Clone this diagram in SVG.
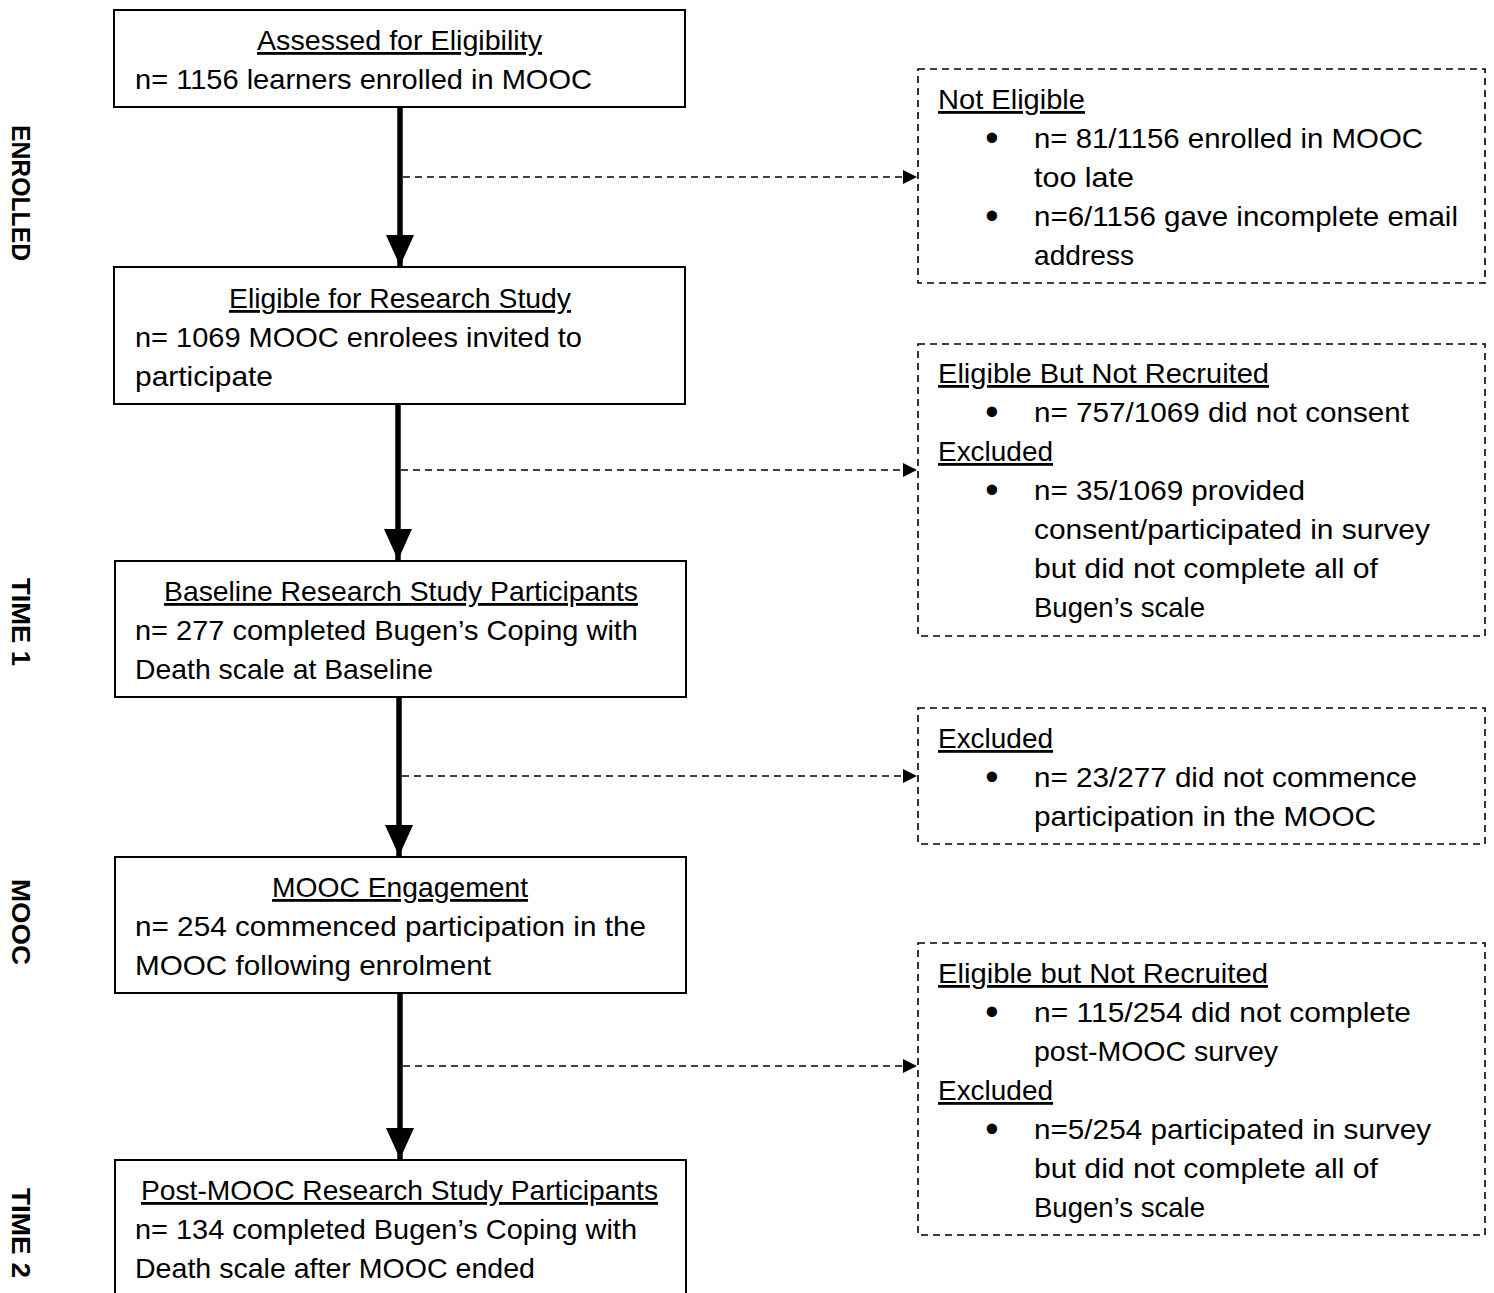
<svg xmlns="http://www.w3.org/2000/svg" width="1494" height="1293" viewBox="0 0 1494 1293">
<style>
.box{fill:#fff;stroke:#000;stroke-width:2}
.dbox{fill:#fff;stroke:#000;stroke-width:1.6;stroke-dasharray:7 5}
.t{font-family:"Liberation Sans",Arial,sans-serif;font-size:28px;fill:#000}
.b{font-family:"Liberation Sans",Arial,sans-serif;font-size:38px;fill:#000}
.u{text-decoration:underline}
.side{font-family:"Liberation Sans",Arial,sans-serif;font-size:25px;font-weight:bold;fill:#000}
.main{stroke:#000;stroke-width:5.5;fill:none}
.dash{stroke:#000;stroke-width:1.6;stroke-dasharray:7 5;fill:none}
</style>
<defs>
<marker id="big" markerUnits="userSpaceOnUse" markerWidth="30" markerHeight="32" refX="15" refY="31" orient="0" viewBox="0 0 30 32">
<path d="M1,0 L29,0 L15,31 Z" fill="#000"/>
</marker>
<marker id="small" markerUnits="userSpaceOnUse" markerWidth="15" markerHeight="16" refX="14" refY="8" orient="auto" viewBox="0 0 15 16">
<path d="M0,1 L14,8 L0,15 Z" fill="#000"/>
</marker>
</defs>
<rect width="1494" height="1293" fill="#fff"/>

<g id="side-labels">
<text class="side" transform="translate(12,193) rotate(90)" x="-68" y="0" textLength="136" lengthAdjust="spacingAndGlyphs">ENROLLED</text>
<text class="side" transform="translate(12,622) rotate(90)" x="-44" y="0" textLength="88" lengthAdjust="spacingAndGlyphs">TIME 1</text>
<text class="side" transform="translate(12,922) rotate(90)" x="-43" y="0" textLength="86" lengthAdjust="spacingAndGlyphs">MOOC</text>
<text class="side" transform="translate(12,1233) rotate(90)" x="-45" y="0" textLength="90" lengthAdjust="spacingAndGlyphs">TIME 2</text>
</g>

<g id="connectors">
<line class="main" x1="400" y1="107" x2="400" y2="266" marker-end="url(#big)"/>
<line class="main" x1="398" y1="404" x2="398" y2="560" marker-end="url(#big)"/>
<line class="main" x1="399" y1="697" x2="399" y2="856" marker-end="url(#big)"/>
<line class="main" x1="400" y1="993" x2="400" y2="1159" marker-end="url(#big)"/>
<line class="dash" x1="403" y1="177" x2="917" y2="177" marker-end="url(#small)"/>
<line class="dash" x1="401" y1="470" x2="917" y2="470" marker-end="url(#small)"/>
<line class="dash" x1="402" y1="776" x2="917" y2="776" marker-end="url(#small)"/>
<line class="dash" x1="403" y1="1066" x2="917" y2="1066" marker-end="url(#small)"/>
</g>

<g id="assessed">
<rect class="box" x="114" y="10" width="571" height="97"/>
<text class="t u" x="257" y="50" textLength="285" lengthAdjust="spacingAndGlyphs">Assessed for Eligibility</text>
<text class="t" x="135" y="89" textLength="457" lengthAdjust="spacingAndGlyphs">n= 1156 learners enrolled in MOOC</text>
</g>

<g id="eligible">
<rect class="box" x="114" y="267" width="571" height="137"/>
<text class="t u" x="229" y="308" textLength="342" lengthAdjust="spacingAndGlyphs">Eligible for Research Study</text>
<text class="t" x="135" y="347" textLength="447" lengthAdjust="spacingAndGlyphs">n= 1069 MOOC enrolees invited to</text>
<text class="t" x="135" y="386" textLength="138" lengthAdjust="spacingAndGlyphs">participate</text>
</g>

<g id="baseline">
<rect class="box" x="115" y="561" width="571" height="136"/>
<text class="t u" x="164" y="601" textLength="474" lengthAdjust="spacingAndGlyphs">Baseline Research Study Participants</text>
<text class="t" x="135" y="640" textLength="503" lengthAdjust="spacingAndGlyphs">n= 277 completed Bugen’s Coping with</text>
<text class="t" x="135" y="679" textLength="298" lengthAdjust="spacingAndGlyphs">Death scale at Baseline</text>
</g>

<g id="engagement">
<rect class="box" x="115" y="857" width="571" height="136"/>
<text class="t u" x="272" y="897" textLength="256" lengthAdjust="spacingAndGlyphs">MOOC Engagement</text>
<text class="t" x="135" y="936" textLength="511" lengthAdjust="spacingAndGlyphs">n= 254 commenced participation in the</text>
<text class="t" x="135" y="975" textLength="356" lengthAdjust="spacingAndGlyphs">MOOC following enrolment</text>
</g>

<g id="post">
<rect class="box" x="115" y="1160" width="571" height="140"/>
<text class="t u" x="141" y="1200" textLength="517" lengthAdjust="spacingAndGlyphs">Post-MOOC Research Study Participants</text>
<text class="t" x="135" y="1239" textLength="502" lengthAdjust="spacingAndGlyphs">n= 134 completed Bugen’s Coping with</text>
<text class="t" x="135" y="1278" textLength="400" lengthAdjust="spacingAndGlyphs">Death scale after MOOC ended</text>
</g>

<g id="not-eligible">
<rect class="dbox" x="918" y="69" width="567" height="214"/>
<text class="t u" x="938" y="109" textLength="147" lengthAdjust="spacingAndGlyphs">Not Eligible</text>
<text class="b" x="992" y="151" text-anchor="middle">•</text>
<text class="t" x="1034" y="148" textLength="389" lengthAdjust="spacingAndGlyphs">n= 81/1156 enrolled in MOOC</text>
<text class="t" x="1034" y="187" textLength="100" lengthAdjust="spacingAndGlyphs">too late</text>
<text class="b" x="992" y="229" text-anchor="middle">•</text>
<text class="t" x="1034" y="226" textLength="424" lengthAdjust="spacingAndGlyphs">n=6/1156 gave incomplete email</text>
<text class="t" x="1034" y="265" textLength="100" lengthAdjust="spacingAndGlyphs">address</text>
</g>

<g id="not-recruited-1">
<rect class="dbox" x="918" y="344" width="567" height="292"/>
<text class="t u" x="938" y="383" textLength="331" lengthAdjust="spacingAndGlyphs">Eligible But Not Recruited</text>
<text class="b" x="992" y="425" text-anchor="middle">•</text>
<text class="t" x="1034" y="422" textLength="375" lengthAdjust="spacingAndGlyphs">n= 757/1069 did not consent</text>
<text class="t u" x="938" y="461" textLength="115" lengthAdjust="spacingAndGlyphs">Excluded</text>
<text class="b" x="992" y="503" text-anchor="middle">•</text>
<text class="t" x="1034" y="500" textLength="271" lengthAdjust="spacingAndGlyphs">n= 35/1069 provided</text>
<text class="t" x="1034" y="539" textLength="396" lengthAdjust="spacingAndGlyphs">consent/participated in survey</text>
<text class="t" x="1034" y="578" textLength="344" lengthAdjust="spacingAndGlyphs">but did not complete all of</text>
<text class="t" x="1034" y="617" textLength="171" lengthAdjust="spacingAndGlyphs">Bugen’s scale</text>
</g>

<g id="excluded-baseline">
<rect class="dbox" x="918" y="708" width="567" height="136"/>
<text class="t u" x="938" y="748" textLength="115" lengthAdjust="spacingAndGlyphs">Excluded</text>
<text class="b" x="992" y="790" text-anchor="middle">•</text>
<text class="t" x="1034" y="787" textLength="383" lengthAdjust="spacingAndGlyphs">n= 23/277 did not commence</text>
<text class="t" x="1034" y="826" textLength="342" lengthAdjust="spacingAndGlyphs">participation in the MOOC</text>
</g>

<g id="not-recruited-2">
<rect class="dbox" x="918" y="943" width="567" height="292"/>
<text class="t u" x="938" y="983" textLength="330" lengthAdjust="spacingAndGlyphs">Eligible but Not Recruited</text>
<text class="b" x="992" y="1025" text-anchor="middle">•</text>
<text class="t" x="1034" y="1022" textLength="377" lengthAdjust="spacingAndGlyphs">n= 115/254 did not complete</text>
<text class="t" x="1034" y="1061" textLength="244" lengthAdjust="spacingAndGlyphs">post-MOOC survey</text>
<text class="t u" x="938" y="1100" textLength="115" lengthAdjust="spacingAndGlyphs">Excluded</text>
<text class="b" x="992" y="1142" text-anchor="middle">•</text>
<text class="t" x="1034" y="1139" textLength="397" lengthAdjust="spacingAndGlyphs">n=5/254 participated in survey</text>
<text class="t" x="1034" y="1178" textLength="344" lengthAdjust="spacingAndGlyphs">but did not complete all of</text>
<text class="t" x="1034" y="1217" textLength="171" lengthAdjust="spacingAndGlyphs">Bugen’s scale</text>
</g>
</svg>
